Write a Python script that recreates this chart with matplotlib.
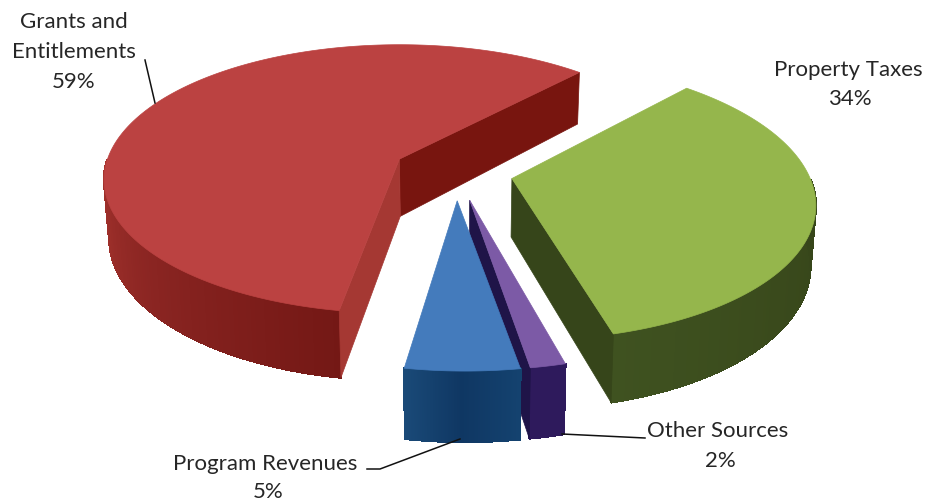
import numpy as np
import matplotlib
matplotlib.use('Agg')
import matplotlib.pyplot as plt
from matplotlib.colors import LinearSegmentedColormap

# slices, counter clockwise starting from the Grants edge at upper right
labels = ['Grants and\nEntitlements', 'Program Revenues', 'Other Sources', 'Property Taxes']
values = [59.25, 5.15, 1.6, 34.0]
top_colors = ['#bb4241', '#447bbc', '#7c5aa6', '#95b64c']
wall_colors = [['#a8352f', '#8a2522', '#741815'],
               ['#1a4a78', '#0f3763', '#14426f'],
               ['#2e1a5c', '#2e1a5c', '#2e1a5c'],
               ['#3f5220', '#3a4a1c', '#36451a']]
radial_low = ['#78150f', '#0f3763', '#1f1448', '#36451a']
radial_high = ['#a53833', '#0f3763', '#1f1448', '#36451a']

start_angle = 47.0
explode = 0.21

# view parameters of the fake 3d pie (in pixels)
cx, cy = 456.0, 171.5
sx, sy = 296.0, 135.0
persp = 0.15
height = 58.0
bottom_scale = 0.985
# per slice lean and sideways nudge
shears = [-7.0, -8.0, -3.0, -4.0]
nudges = [-1.0, 0.0, 0.0, -5.0]


def project(U, V, shear, lower=False):
    w = 1 + persp * V
    x = cx + sx * U / w + shear * V
    y = cy - sy * V / w
    if lower:
        x = cx + (x - cx) * bottom_scale
        y = y + height / w
    return x, y


def rim(th, offs):
    return np.cos(th) + offs[0], np.sin(th) + offs[1]


fig = plt.figure(figsize=(9.27, 5.01), dpi=100)
ax = fig.add_axes([0, 0, 1, 1])
ax.set_xlim(0, 927)
ax.set_ylim(501, 0)
ax.axis('off')

# angles of each slice
total = sum(values)
spans = np.array(values) / total * 2 * np.pi
starts = np.radians(start_angle) + np.concatenate([[0], np.cumsum(spans)[:-1]])
# paint from the back to the front
for i in [0, 3, 2, 1]:
    a0, a1 = starts[i], starts[i] + spans[i]
    mid = (a0 + a1) / 2
    offs = (explode * np.cos(mid) + nudges[i] / sx, explode * np.sin(mid))
    th = np.linspace(a0, a1, 241)
    U, V = rim(th, offs)
    sh = shears[i]

    # outer wall, split up in strips for the gradient
    cmap = LinearSegmentedColormap.from_list('wall', wall_colors[i])
    visible = np.where(np.sin(th) < 0.0)[0]
    for n, j in enumerate(visible[:-1]):
        if visible[n + 1] != j + 1:
            continue
        xt, yt = project(U[j:j + 2], V[j:j + 2], sh)
        xb, yb = project(U[j:j + 2], V[j:j + 2], sh, lower=True)
        frac = (th[j] - th[visible[0]]) / max(th[visible[-1]] - th[visible[0]], 1e-6)
        ax.fill(np.r_[xt, xb[::-1]], np.r_[yt, yb[::-1]], color=cmap(frac), lw=1.0, antialiased=False)

    # flat walls towards the apex
    ax_, ay_ = project(offs[0], offs[1], sh)
    bx_, by_ = project(offs[0], offs[1], sh, lower=True)
    for ang, normal, col in [(a0, a0 - np.pi / 2, radial_low[i]), (a1, a1 + np.pi / 2, radial_high[i])]:
        if np.sin(normal) < 0:
            eu, ev = rim(ang, offs)
            ex, ey = project(eu, ev, sh)
            fx, fy = project(eu, ev, sh, lower=True)
            ax.fill([ax_, ex, fx, bx_], [ay_, ey, fy, by_], color=col, lw=0.5)

    # top face
    xt, yt = project(U, V, sh)
    ax.fill(np.r_[ax_, xt], np.r_[ay_, yt], color=top_colors[i], lw=0.5)

font = {'family': 'Lato', 'fontsize': 16, 'color': '#262626', 'ha': 'center', 'va': 'center'}
ax.text(74, 22, 'Grants and', **font)
ax.text(74, 52, 'Entitlements', **font)
ax.text(74, 82, str(round(values[0])) + '%', **font)
ax.text(848, 70, labels[3], **font)
ax.text(850, 99, str(round(values[3])) + '%', **font)
ax.text(718, 431, labels[2], **font)
ax.text(720, 461, str(round(values[2])) + '%', **font)
ax.text(265, 464, labels[1], **font)
ax.text(268, 492, str(round(values[1])) + '%', **font)

# leader lines
ax.plot([145, 155], [60, 103], color='#111111', lw=1.1, zorder=3)
ax.plot([367, 380, 460], [469, 469, 439], color='#111111', lw=1.1, zorder=3)
ax.plot([562, 645], [434, 438], color='#111111', lw=1.1, zorder=3)

fig.savefig('out.png', dpi=100)
